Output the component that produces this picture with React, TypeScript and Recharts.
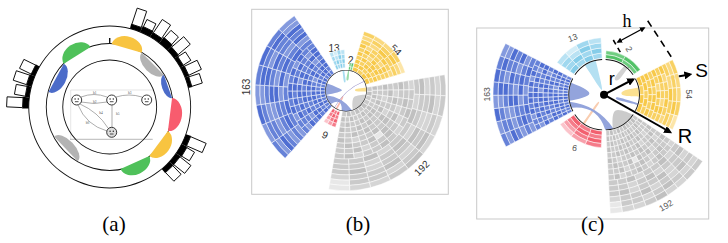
import React from 'react';
import { PieChart, Pie, Sector } from 'recharts';

// shade index per cell, one string per ring, inner ring first (0 = darkest)
const fan163Rows = [
  '1101000100101', '0100101101001', '1010000120100', '0011010010110', '1201001001021',
  '0110100201100', '2101010010120', '1120100102011', '21012101', '10120012',
  '21102120', '12201011', '01210210', '21120102', '12021012',
];
const fan192Rows = [
  '1011010101', '0101101011010', '1110100101101', '0121011010110', '1011201101011',
  '1201101011210', '0112010301101', '1101210112011', '2110121011201', '120112011',
  '011201211', '212011201', '102120112', '221012113', '112201223',
];
const fan54Rows = [
  '0100', '00101', '010010', '101001', '0120101', '1011201', '0211012', '12011', '21102', '12213',
];
const fan13Rows = ['0101', '1010', '1201', '2312'];
const fan9Rows = ['010', '101', '012', '123'];
const fan2Rows = ['01', '10'];

const blues = ['#4f6ed2', '#6682d8', '#849ade', '#aebce9'];
const grays = ['#c0c0c0', '#cacaca', '#d5d5d5', '#e8e8e8'];
const yellows = ['#f7c94a', '#f8d163', '#fad97f', '#fce5a8'];
const skies = ['#86cde9', '#a0d8ef', '#b9e2f3', '#d3edf7'];
const reds = ['#f2606f', '#f57b89', '#f8a0ab', '#fbc3ca'];
const greens = ['#52c267', '#6fcd80', '#8bd79a', '#a8e1b3'];

// petals on the middle ring of panel (a), clockwise span in degrees
const petalSpans = [29.6, 29, 19.5, 29, 28.8, 22.4, 30.7, 28.6, 29.2, 40.4, 31.6, 41.7];
const petalColors = ['#4c6cc9', '#4fc15a', null, '#f8c440', '#b3b3b3', '#4c6cc9', '#f85c6e', '#f8c440', '#4fc15a', null, '#b3b3b3', null];
const petalBulge = [-10, 12, 0, 12, -9, -6, 12, 12, 12, 0, -9, 0];

// histogram around the outer ring of panel (a)
const histSpans = [7.75, 7.75, 7.75, 7.75, 74.5, 7.74, 7.74, 7.74, 7.74, 7.74, 7.74, 7.74, 7.74, 33.3, 7.6, 7.6, 7.6, 7.6, 129];
const histWhite = [16, 11, 14, 13, 0, 17, 8, 16, 10, 16, 9, 14, 11, 0, 17, 9, 14, 12, 0];
const histBlack = [6, 4, 5, 4, 0, 4.5, 6, 5, 7, 5, 3.5, 4, 3.5, 0, 5, 6, 5, 5, 0];

// chord blobs inside the circle, clockwise span / colour / how far the tip reaches
const chordSpansB = [33, 59, 5, 11, 3, 72, 11, 10, 58, 45, 5, 48];
const chordColorsB = ['#93a4dc', null, '#a9dcf0', null, '#9bdcaa', null, '#fbe08f', null, '#cfcfcf', null, '#f8b9b0', null];
const chordTipsB = [0.2, 0, 0.4, 0, 0.5, 0, 0.44, 0, 0.5, 0, 0.3, 0];
const chordSpansC = [30, 37, 19.4, 48.6, 7, 36, 15.3, 10.7, 3, 18, 40, 48, 4, 43];
const chordColorsC = ['#93a4dc', null, '#b4e0f2', null, '#d2d2d2', null, '#fbe08f', null, '#93a4dc', null, '#cbcbcb', null, '#f9cdb0', null];
const chordTipsC = [0.42, 0, 0.15, 0, 0.53, 0, 0.5, 0, 0.35, 0, 0.56, 0, 0.25, 0];

const rad = Math.PI / 180;
const pt = (cx: number, cy: number, r: number, a: number) => `${cx + r * Math.cos(a * rad)} ${cy - r * Math.sin(a * rad)}`;

function PetalShape(props: any) {
  const { cx, cy, outerRadius: r, startAngle: a0, endAngle: a1, color, bulge } = props;
  if (!color) return <g />;
  const x0 = cx + r * Math.cos(a0 * rad);
  const y0 = cy - r * Math.sin(a0 * rad);
  const x1 = cx + r * Math.cos(a1 * rad);
  const y1 = cy - r * Math.sin(a1 * rad);
  const half = Math.hypot(x1 - x0, y1 - y0) / 2;
  const rot = (Math.atan2(y1 - y0, x1 - x0) * 180) / Math.PI;
  return (
    <path
      d={`M${x0} ${y0} A${half} ${Math.abs(bulge)} ${rot} 0 ${bulge > 0 ? 1 : 0} ${x1} ${y1} Z`}
      fill={color}
    />
  );
}

function HistShape(props: any) {
  const { cx, cy, innerRadius: r, startAngle, endAngle, midAngle, white, black } = props;
  if (!white) return <g />;
  const base = r + black;
  const w = 5;
  const a = midAngle * rad;
  const ux = Math.cos(a);
  const uy = -Math.sin(a);
  const px = -uy * w;
  const py = ux * w;
  const bx = cx + base * ux;
  const by = cy + base * uy;
  const tx = bx + white * ux;
  const ty = by + white * uy;
  return (
    <g>
      <Sector cx={cx} cy={cy} innerRadius={r} outerRadius={base + 0.5} startAngle={startAngle} endAngle={endAngle} fill="#000" />
      <polygon
        points={`${bx + px},${by + py} ${tx + px},${ty + py} ${tx - px},${ty - py} ${bx - px},${by - py}`}
        fill="#fff"
        stroke="#111"
        strokeWidth={1}
      />
    </g>
  );
}

function ChordShape(props: any) {
  const { cx, cy, outerRadius: r, startAngle: a0, endAngle: a1, color, tip } = props;
  if (!color) return <g />;
  const mid = (a0 + a1) / 2;
  const d = `M${pt(cx, cy, r, a0)} A${r} ${r} 0 0 1 ${pt(cx, cy, r, a1)} C${pt(cx, cy, r * (tip + 0.35), a1)} ${pt(cx, cy, r * tip, mid - 12)} ${pt(cx, cy, r * tip, mid)} C${pt(cx, cy, r * tip, mid + 12)} ${pt(cx, cy, r * (tip + 0.35), a0)} ${pt(cx, cy, r, a0)} Z`;
  return <path d={d} fill={color} />;
}

function RibbonShape(props: any) {
  const { cx, cy, outerRadius: r, startAngle: a0, endAngle: a1, color, toStart, toEnd, bend } = props;
  if (!color) return <g />;
  const midA = (a0 + a1) / 2;
  const midT = (toStart + toEnd) / 2 + 360;
  const c = pt(cx, cy, r * bend, (midA + midT) / 2);
  const d = `M${pt(cx, cy, r, a1)} Q${c} ${pt(cx, cy, r, toStart)} A${r} ${r} 0 0 1 ${pt(cx, cy, r, toEnd)} Q${c} ${pt(cx, cy, r, a0)} A${r} ${r} 0 0 1 ${pt(cx, cy, r, a1)} Z`;
  return <path d={d} fill={color} />;
}

// one concentric Pie for every ring of a fan
function fanPies(id: string, rows: string[], palette: string[], f: any) {
  return rows.map((row, i) => (
    <Pie
      key={`${id}-${i}`}
      data={row.split('').map((c) => ({ value: 1, fill: palette[Number(c)] }))}
      dataKey="value"
      cx={f.cx}
      cy={f.cy}
      startAngle={f.start}
      endAngle={f.end}
      innerRadius={f.r0 + ((f.r1 - f.r0) * i) / rows.length}
      outerRadius={f.r0 + ((f.r1 - f.r0) * (i + 1)) / rows.length}
      stroke="#fff"
      strokeWidth={0.5}
      isAnimationActive={false}
    />
  ));
}

function ring(id: string, cx: number, cy: number, r: number, start = 0, end = 360, w = 0.9, fill = '#111') {
  return (
    <Pie
      key={id}
      data={[{ value: 1, fill }]}
      dataKey="value"
      cx={cx}
      cy={cy}
      startAngle={start}
      endAngle={end}
      innerRadius={r}
      outerRadius={r + w}
      stroke="none"
      isAnimationActive={false}
    />
  );
}

function specialPie(id: string, data: any[], shape: any, cx: number, cy: number, r: number, start: number, inner = 0) {
  return (
    <Pie
      key={id}
      data={data}
      dataKey="value"
      cx={cx}
      cy={cy}
      startAngle={start}
      endAngle={start - 360}
      innerRadius={inner}
      outerRadius={r}
      stroke="none"
      shape={shape}
      isAnimationActive={false}
    />
  );
}

const B = { cx: 346, cy: 90.7 };
const C = { cx: 604, cy: 94.7 };

const fansB = [
  { id: 'b163', rows: fan163Rows, pal: blues, start: 228, end: 124.6, r0: 21, r1: 91 },
  { id: 'b192', rows: fan192Rows, pal: grays, start: 9.2, end: -100, r0: 21, r1: 100 },
  { id: 'b54', rows: fan54Rows, pal: yellows, start: 73, end: 17, r0: 21, r1: 62 },
  { id: 'b13', rows: fan13Rows, pal: skies, start: 114, end: 92, r0: 23, r1: 41 },
  { id: 'b2', rows: fan2Rows, pal: greens, start: 83, end: 74, r0: 21, r1: 28 },
  { id: 'b9', rows: fan9Rows, pal: reds, start: 254, end: 234, r0: 22, r1: 38 },
];
const fansC = [
  { id: 'c163', rows: fan163Rows, pal: blues, start: 208, end: 152.5, r0: 36, r1: 111 },
  { id: 'c192', rows: fan192Rows, pal: grays, start: -34, end: -87, r0: 36, r1: 119 },
  { id: 'c54', rows: fan54Rows, pal: yellows, start: 27, end: -27, r0: 36, r1: 77 },
  { id: 'c13', rows: fan13Rows, pal: skies, start: 145.6, end: 93, r0: 36.5, r1: 57 },
  { id: 'c2', rows: fan2Rows, pal: greens, start: 87.4, end: 34.4, r0: 36.5, r1: 44 },
  { id: 'c9', rows: fan9Rows, pal: reds, start: 267, end: 214, r0: 36.5, r1: 53 },
];

const labelsB = [
  { t: '163', x: 246, y: 87, a: -90 },
  { t: '13', x: 334, y: 48, a: 0 },
  { t: '2', x: 350.7, y: 60, a: 0 },
  { t: '54', x: 396, y: 50, a: 45 },
  { t: '192', x: 421.7, y: 168, a: -45 },
  { t: '9', x: 325, y: 135, a: 25 },
];
const labelsC = [
  { t: '163', x: 487.3, y: 94.3, a: -90 },
  { t: '13', x: 572.7, y: 37.7, a: -20 },
  { t: '2', x: 629, y: 49, a: 60 },
  { t: '54', x: 689, y: 94.3, a: 90 },
  { t: '192', x: 666, y: 205.7, a: -30 },
  { t: '9', x: 574.7, y: 148, a: 190 },
];

const nodes = [
  { x: 76.7, y: 100, f: '#fff' },
  { x: 111.7, y: 100, f: '#fff' },
  { x: 146.7, y: 100, f: '#fff' },
  { x: 111.7, y: 132.3, f: '#ddd' },
];
const edgeLabels = [
  { x: 94.7, y: 93.5 }, { x: 94.7, y: 103 }, { x: 129.7, y: 94 },
  { x: 101, y: 114 }, { x: 117.7, y: 115 }, { x: 87.5, y: 124 },
];
const edges = [
  'M81 97 Q94 92 107 97', 'M81 102 Q94 105 107 102', 'M116 97 Q129 93 142 97',
  'M80 104 Q98 112 108 128', 'M78 105 Q86 125 107 131', 'M112 105 L112 127',
];

const arrows = [
  { x1: 604, y1: 94.7, x2: 633, y2: 79.5 },
  { x1: 604, y1: 94.7, x2: 670, y2: 132 },
  { x1: 667.3, y1: 78.3, x2: 690, y2: 74.5 },
  { x1: 618, y1: 42, x2: 644, y2: 28 },
];

export default function App() {
  return (
    <div style={{ position: 'absolute', left: 0, top: 0, width: 728, height: 243, background: '#fff' }}>
      <PieChart width={728} height={243} margin={{ top: 0, right: 0, bottom: 0, left: 0 }}>
        <defs>
          <marker id="head" viewBox="0 0 10 10" refX="7" refY="5" markerWidth="4" markerHeight="4" orient="auto-start-reverse">
            <path d="M0 0 L10 5 L0 10 Z" fill="#000" />
          </marker>
        </defs>
        <rect x={251.7} y={9.3} width={196.6} height={185} fill="none" stroke="#c9c9c9" strokeWidth={1} />
        <rect x={476.7} y={28} width={232} height={191} fill="none" stroke="#c9c9c9" strokeWidth={1} />

        {/* panel a */}
        {ring('a-outer', 109.7, 107, 80.5)}
        {ring('a-mid', 109.7, 107, 63)}
        {ring('a-inner', 109.7, 107, 46.5)}
        {ring('a-tick', 109.7, 107, 63, 90.6, 89.4, 6)}
        {specialPie(
          'a-petals',
          petalSpans.map((value, i) => ({ value, color: petalColors[i], bulge: petalBulge[i] })),
          PetalShape, 109.7, 107, 63, 166.3,
        )}
        {specialPie(
          'a-hist',
          histSpans.map((value, i) => ({ value, white: histWhite[i], black: histBlack[i] })),
          HistShape, 109.7, 107, 98, 181, 81,
        )}
        <path d="M70.7 139.3 V90 H153" fill="none" stroke="#d5d5d5" strokeWidth={0.6} />
        <path d="M70 139.3 H152.7" fill="none" stroke="#999" strokeWidth={0.7} />
        {edges.map((d) => (
          <path key={d} d={d} fill="none" stroke="#777" strokeWidth={0.6} />
        ))}
        {edgeLabels.map((l, i) => (
          <text key={i} x={l.x} y={l.y} fontSize={3.5} fill="#555" textAnchor="middle" fontFamily="Liberation Serif">
            h{i + 1}
          </text>
        ))}
        {nodes.map((n, i) => (
          <g key={i}>
            <circle cx={n.x} cy={n.y} r={5} fill={n.f} stroke="#222" strokeWidth={0.9} />
            <circle cx={n.x - 1.6} cy={n.y - 1} r={0.7} fill="#222" />
            <circle cx={n.x + 1.6} cy={n.y - 1} r={0.7} fill="#222" />
            <path d={`M${n.x - 1.8} ${n.y + 1.7} H${n.x + 1.8}`} stroke="#222" strokeWidth={0.8} />
          </g>
        ))}

        {/* panel b */}
        {fansB.flatMap((f) => fanPies(f.id, f.rows, f.pal, { ...B, ...f }))}
        {ring('b-hole', B.cx, B.cy, 0, 0, 360, 20.5, '#fff')}
        {specialPie(
          'b-chords',
          chordSpansB.map((value, i) => ({ value, color: chordColorsB[i], tip: chordTipsB[i] })),
          ChordShape, B.cx, B.cy, 20.5, 192,
        )}
        {specialPie(
          'b-ribbon',
          [{ value: 28, color: '#93a4dc', toStart: -73, toEnd: -102, bend: 0.35 }, { value: 332 }],
          RibbonShape, B.cx, B.cy, 20.5, 221,
        )}
        {specialPie(
          'b-line',
          [{ value: 1, color: '#8a80c0', toStart: -124, toEnd: -125, bend: 0.1 }, { value: 359 }],
          RibbonShape, B.cx, B.cy, 20.5, 28,
        )}
        {ring('b-circle', B.cx, B.cy, 20.2, 0, 360, 0.6)}
        {labelsB.map((l) => (
          <text key={l.t} x={l.x} y={l.y} fontSize={10} fill="#333" fontFamily="Liberation Sans" textAnchor="middle" dominantBaseline="central" transform={`rotate(${l.a} ${l.x} ${l.y})`}>
            {l.t}
          </text>
        ))}

        {/* panel c */}
        {fansC.flatMap((f) => fanPies(f.id, f.rows, f.pal, { ...C, ...f }))}
        {specialPie(
          'c-chords',
          chordSpansC.map((value, i) => ({ value, color: chordColorsC[i], tip: chordTipsC[i] })),
          ChordShape, C.cx, C.cy, 35, 190,
        )}
        {specialPie(
          'c-ribbon',
          [{ value: 10.4, color: '#93a4dc', toStart: -74.5, toEnd: -88, bend: 0.35 }, { value: 349.6 }],
          RibbonShape, C.cx, C.cy, 35, 202,
        )}
        {fansC.map((f) => ring(`${f.id}-arc`, C.cx, C.cy, 34.8, f.start, f.end, 0.9))}
        {labelsC.map((l) => (
          <text key={l.t} x={l.x} y={l.y} fontSize={8.6} fill="#555" fontFamily="Liberation Sans" textAnchor="middle" dominantBaseline="central" transform={`rotate(${l.a} ${l.x} ${l.y})`}>
            {l.t}
          </text>
        ))}
        <path d="M613.3 40 L630 69" fill="none" stroke="#000" strokeWidth={1.6} strokeDasharray="5 4" />
        <path d="M647.7 20.7 L673.3 60" fill="none" stroke="#000" strokeWidth={1.6} strokeDasharray="7 5" />
        <circle cx={C.cx} cy={C.cy} r={4} fill="#000" />
        {arrows.map((a, i) => (
          <line key={i} {...a} stroke="#000" strokeWidth={i === 3 ? 1.4 : 2} markerEnd="url(#head)" markerStart={i === 3 ? 'url(#head)' : undefined} />
        ))}
        <text x={627} y={27} fontSize={18} fontFamily="Liberation Serif" textAnchor="middle">h</text>
        <text x={611.7} y={85} fontSize={18} fontFamily="Liberation Sans" textAnchor="middle">r</text>
        <text x={701.7} y={77} fontSize={19} fontFamily="Liberation Sans" textAnchor="middle">S</text>
        <text x={685} y={143} fontSize={20} fontFamily="Liberation Sans" textAnchor="middle">R</text>

        <text x={114} y={231} fontSize={21} fontFamily="Liberation Serif" textAnchor="middle">(a)</text>
        <text x={358} y={231} fontSize={21} fontFamily="Liberation Serif" textAnchor="middle">(b)</text>
        <text x={592.7} y={231} fontSize={21} fontFamily="Liberation Serif" textAnchor="middle">(c)</text>
      </PieChart>
    </div>
  );
}
